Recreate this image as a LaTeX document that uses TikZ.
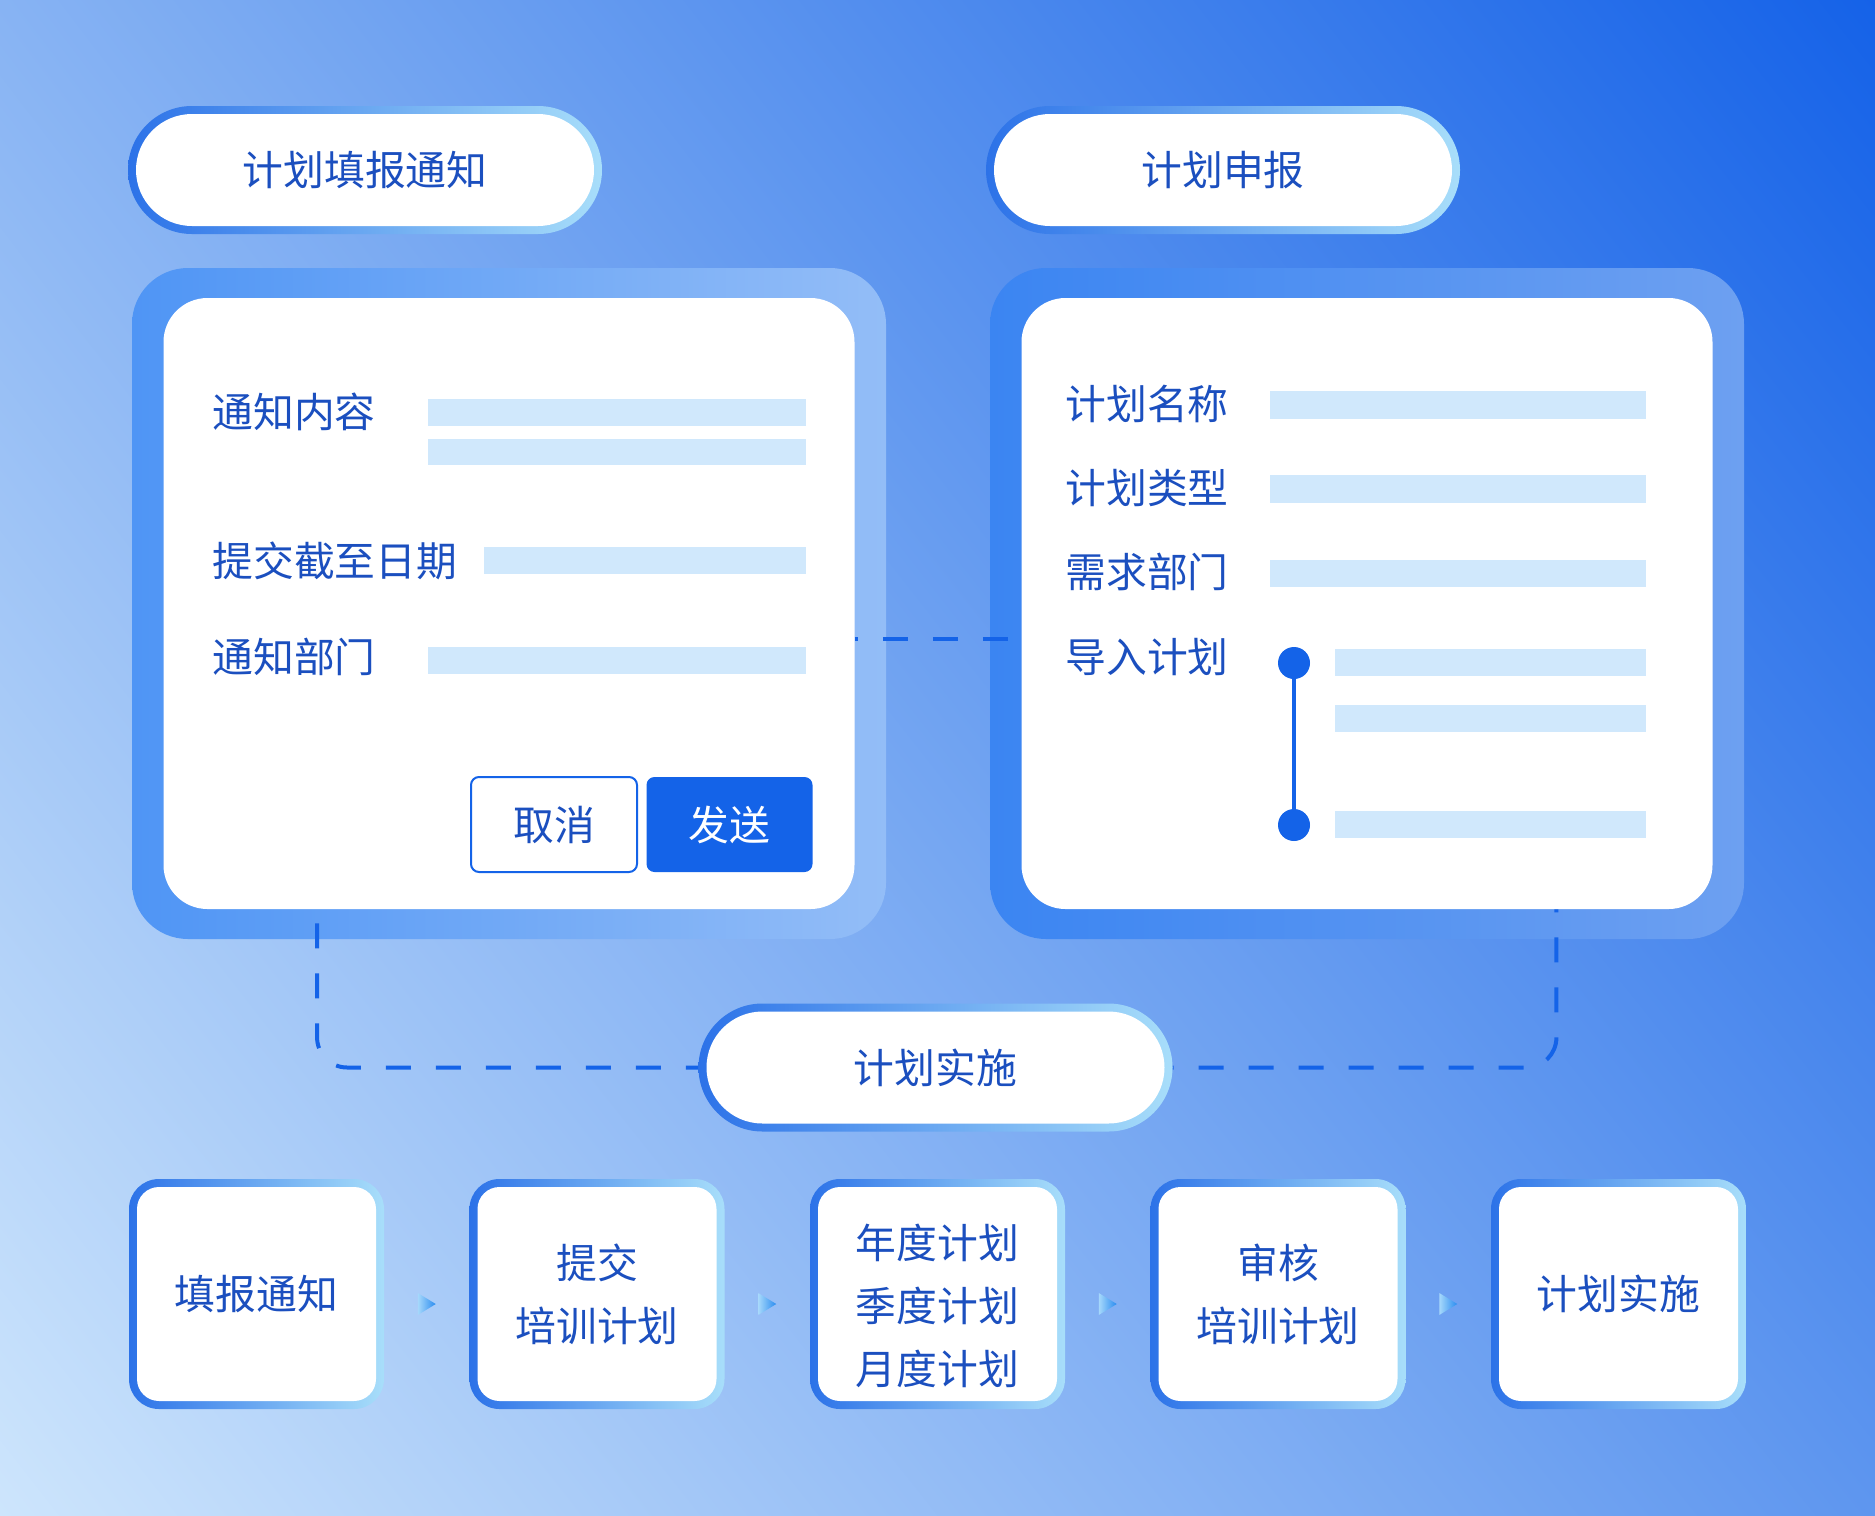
\documentclass[tikz,border=0pt]{standalone}
\usepackage{fontspec}
\setmainfont{Noto Sans CJK SC}
\usetikzlibrary{calc,shadings}

\definecolor{bgUL}{HTML}{87B3F3}
\definecolor{bgUR}{HTML}{1562E8}
\definecolor{bgLL}{HTML}{CDE5FC}
\definecolor{bgLR}{HTML}{5E96EF}
\definecolor{inkBlue}{HTML}{1B4FBF}
\definecolor{accent}{HTML}{1463E8}
\definecolor{fieldBlue}{HTML}{D0E8FC}
\definecolor{rimDark}{HTML}{2C72E8}
\definecolor{rimLight}{HTML}{A8DEFA}
\definecolor{leftL}{HTML}{4F95F5}
\definecolor{leftR}{HTML}{93BDF7}
\definecolor{rightL}{HTML}{3B85F2}
\definecolor{rightR}{HTML}{6DA0F1}
\definecolor{tipL}{HTML}{A6D8FB}
\definecolor{tipR}{HTML}{2A8CF0}

\tikzset{
  every node/.style={font=\fontsize{20.4pt}{31.5pt}\selectfont, text=inkBlue},
  rimbox/.style={shade, left color=rimDark, right color=rimLight, inner sep=0pt,
    path picture={\fill[white, rounded corners=#1]
      ([shift={(4pt,-4pt)}]path picture bounding box.north west) rectangle
      ([shift={(-4pt,4pt)}]path picture bounding box.south east);}},
  pill/.style={rimbox=28pt, rounded corners=32pt, minimum width=237pt, minimum height=64pt},
  stepbox/.style={rimbox=11pt, rounded corners=15pt, minimum width=127.5pt,
    minimum height=115pt, align=center},
  panel/.style 2 args={shade, left color=#1, right color=#2, rounded corners=28pt,
    minimum width=377pt, minimum height=335.5pt},
  card/.style={fill=white, rounded corners=22pt, minimum width=345.5pt, minimum height=305.5pt},
  field/.style={fill=fieldBlue},
  fieldname/.style={anchor=west, inner sep=0pt},
  button/.style={rounded corners=4pt, minimum width=83pt, minimum height=47.5pt},
  dot/.style={circle, fill=accent, inner sep=0pt, minimum size=16pt},
  flowdash/.style={draw=accent, line width=2pt, dash pattern=on 12.5pt off 12.5pt},
  tipshade/.style={left color=tipL, right color=tipR},
}

\begin{document}
\begin{tikzpicture}[x=0.5pt, y=-0.5pt]

\shade[upper left=bgUL, upper right=bgUR, lower left=bgLL, lower right=bgLR] (0,0) rectangle (1875,1516);

% titles
\node[pill] (notice) at (365,170) {计划填报通知};
\node[pill] (report) at (1223,170) {计划申报};

% left form
\node[panel={leftL}{leftR}] (leftpanel) at (509,603.5) {};
\node[card] (leftcard) at (leftpanel) {};

\node[fieldname] (content) at (212,412) {通知内容};
\node[fieldname] (deadline) at (212,561) {提交截至日期};
\node[fieldname] (dept) at (212,657) {通知部门};
\fill[field] (428,399) rectangle (806,426);
\fill[field] (428,439) rectangle (806,465);
\fill[field] (484,547) rectangle (806,574);
\fill[field] (428,647) rectangle (806,674);

\node[button, draw=accent, line width=1pt, fill=white] (cancel) at (554,824.5) {取消};
\node[button, fill=accent, text=white] (send) at (729.5,824.5) {发送};

% right form
\node[panel={rightL}{rightR}] (rightpanel) at (1367,603.5) {};
\node[card] (rightcard) at (rightpanel) {};

\node[fieldname] (planname) at (1065,404) {计划名称};
\node[fieldname] (plantype) at (1065,488) {计划类型};
\node[fieldname] (needdept) at (1065,572) {需求部门};
\node[fieldname] (import) at (1065,657) {导入计划};
\fill[field] (1270,391) rectangle (1646,419);
\fill[field] (1270,475) rectangle (1646,503);
\fill[field] (1270,560) rectangle (1646,587);
\fill[field] (1335,649) rectangle (1646,676);
\fill[field] (1335,705) rectangle (1646,732);
\fill[field] (1335,811) rectangle (1646,838);

\node[dot] (first) at (1294,663) {};
\node[dot] (last) at (1294,825) {};
\draw[accent, line width=2pt] (first) -- (last);

% middle
\node[pill] (carryout) at (935.5,1067.5) {计划实施};

\coordinate (linkrow) at (0,639);
\draw[flowdash, dash phase=11pt] (leftcard.east |- linkrow) -- (rightcard.west |- linkrow);
\draw[flowdash, dash phase=18pt, rounded corners=15pt] ([xshift=77pt]leftcard.south west) |- (carryout.west);
\draw[flowdash, dash phase=11pt, rounded corners=15pt] ([xshift=-78.25pt]rightcard.south east) |- (carryout.east);

% steps
\node[stepbox] (notify) at (256.5,1294) {填报通知};
\node[stepbox] (submit) at (597,1294) {提交\\培训计划};
\node[stepbox] (plans) at (937.5,1294) {\rule{0pt}{29pt}年度计划\\季度计划\\月度计划};
\node[stepbox] (review) at (1278,1294) {审核\\培训计划};
\node[stepbox] (execute) at (1618.5,1294) {计划实施};

\coordinate (gap1) at ($(notify.east)!.5!(submit.west)+(0,10)$);
\coordinate (gap2) at ($(submit.east)!.5!(plans.west)+(0,10)$);
\coordinate (gap3) at ($(plans.east)!.5!(review.west)+(0,10)$);
\coordinate (gap4) at ($(review.east)!.5!(execute.west)+(0,10)$);
\shade[tipshade] ([shift={(-4.5pt,5.5pt)}]gap1) -- ([xshift=4.5pt]gap1) -- ([shift={(-4.5pt,-5.5pt)}]gap1) -- cycle;
\shade[tipshade] ([shift={(-4.5pt,5.5pt)}]gap2) -- ([xshift=4.5pt]gap2) -- ([shift={(-4.5pt,-5.5pt)}]gap2) -- cycle;
\shade[tipshade] ([shift={(-4.5pt,5.5pt)}]gap3) -- ([xshift=4.5pt]gap3) -- ([shift={(-4.5pt,-5.5pt)}]gap3) -- cycle;
\shade[tipshade] ([shift={(-4.5pt,5.5pt)}]gap4) -- ([xshift=4.5pt]gap4) -- ([shift={(-4.5pt,-5.5pt)}]gap4) -- cycle;

\end{tikzpicture}
\end{document}
